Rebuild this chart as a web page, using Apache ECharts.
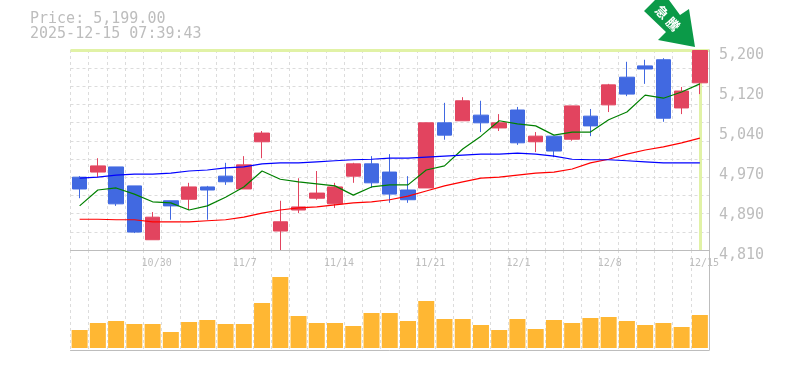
<!DOCTYPE html>
<html>
<head>
<meta charset="utf-8">
<style>html,body{margin:0;padding:0;background:#fff}#c{width:785px;height:370px}</style>
<script src="https://cdn.jsdelivr.net/npm/echarts@6/dist/echarts.min.js"></script>
</head>
<body>
<div id="c"></div>
<script>
const titleLines = ['Price: 5,199.00', '2025-12-15 07:39:43'];
const badgeText = ['急', '騰'];
const categories = ['10/24','10/27','10/28','10/29','10/30','10/31','11/4','11/5','11/6','11/7','11/10','11/11','11/12','11/13','11/14','11/17','11/18','11/19','11/20','11/21','11/25','11/26','11/27','11/28','12/1','12/2','12/3','12/4','12/5','12/8','12/9','12/10','12/11','12/12','12/15'];
const shownDates = ['10/30','11/7','11/14','11/21','12/1','12/8','12/15'];
const priceTicks = ['4,810','4,890','4,970','5,040','5,120','5,200'];
const lastPrice = 5199;
const lastDate = '12/15';
// open, close, low, high
const ohlc = [
[4952,4929,4911,4954],[4962,4974,4952,4989],[4972,4900,4896,4972],[4935,4845,4843,4935],[4830,4874,4830,4884],
[4906,4896,4869,4906],[4909,4933,4888,4941],[4933,4927,4869,4935],[4954,4943,4937,4980],[4929,4976,4929,4993],
[5021,5038,4989,5042],[4847,4865,4810,4906],[4888,4894,4882,4950],[4911,4921,4908,4964],[4900,4933,4892,4941],
[4954,4978,4941,4980],[4978,4941,4931,4993],[4962,4919,4902,4997],[4927,4908,4902,4954],[4931,5058,4931,5058],
[5058,5034,5025,5097],[5062,5101,5062,5108],[5073,5058,5040,5101],[5048,5058,5042,5075],[5083,5019,5015,5089],
[5021,5032,5001,5040],[5032,5003,4991,5032],[5026,5091,5023,5091],[5071,5052,5032,5085],[5093,5132,5079,5134],
[5147,5114,5110,5177],[5169,5163,5134,5181],[5181,5067,5060,5184],[5087,5120,5075,5128],[5136,5199,5114,5199]
];
const maShort = [4896,4927,4931,4919,4904,4902,4888,4896,4913,4933,4964,4948,4943,4939,4935,4917,4933,4937,4937,4966,4974,5007,5032,5062,5056,5052,5034,5040,5040,5064,5079,5112,5106,5118,5134];
const maMid = [4870,4870,4869,4869,4865,4865,4865,4867,4869,4874,4882,4888,4892,4894,4898,4902,4904,4908,4915,4925,4935,4943,4950,4952,4956,4960,4962,4968,4980,4987,4997,5005,5011,5019,5028];
const maLong = [4950,4952,4956,4958,4958,4960,4964,4966,4970,4972,4978,4980,4980,4982,4984,4986,4987,4989,4989,4991,4993,4995,4997,4997,4999,4997,4993,4987,4986,4986,4984,4982,4980,4980,4980];
const volume = [18,25,27,24,24,16,26,28,24,24,45,71,32,25,25,22,35,35,27,47,29,29,23,18,29,19,28,25,30,31,27,23,25,21,33];

const GREY = '#bdbdbd', GRID = '#dcdcdc', FONT = '"DejaVu Sans Mono", monospace';
const L = 70.5, W = 638.5;
const chart = echarts.init(document.getElementById('c'), null, {renderer: 'canvas'});
const vGrid = {show: true, interval: 0, lineStyle: {color: GRID, type: [3, 3], width: 1}};
const hiddenY = {axisLabel: {show: false}, axisLine: {show: false}, axisTick: {show: false}, splitLine: {show: false}};
chart.setOption({
  animation: false,
  backgroundColor: '#fff',
  title: {
    text: titleLines.join('\n'), left: 30, top: 12, padding: 0,
    textStyle: {color: GREY, fontFamily: FONT, fontSize: 15, fontWeight: 'normal', lineHeight: 15}
  },
  grid: [
    {left: L, width: W, top: 50, height: 200},
    {left: L, width: W, top: 250, height: 100},
    {left: L - 11, width: W, top: 50, height: 200},
    {left: L, width: W, top: 55, height: 200}
  ],
  xAxis: [
    {type: 'category', gridIndex: 0, data: categories, axisTick: {show: false}, axisLabel: {show: false},
     axisLine: {onZero: false, lineStyle: {color: GREY, width: 1}}, splitLine: vGrid},
    {type: 'category', gridIndex: 1, data: categories, axisTick: {show: false}, axisLabel: {show: false},
     axisLine: {onZero: false, lineStyle: {color: GREY, width: 1}}, splitLine: vGrid},
    {type: 'category', gridIndex: 2, data: categories, axisTick: {show: false}, axisLine: {show: false},
     splitLine: {show: false},
     axisLabel: {color: GREY, fontFamily: FONT, fontSize: 10, align: 'left', margin: 8,
       interval: (i, v) => shownDates.includes(v)}},
    {type: 'category', gridIndex: 3, data: categories, show: false}
  ],
  yAxis: [
    {type: 'value', gridIndex: 0, min: 4810, max: 5200, scale: true, ...hiddenY},
    {type: 'value', gridIndex: 0, min: 0, max: 5, interval: 1, position: 'right', ...hiddenY,
     axisLine: {show: true, lineStyle: {color: GREY, width: 1}}},
    {type: 'value', gridIndex: 0, min: 0, max: 11, interval: 1, ...hiddenY,
     splitLine: {show: true, lineStyle: {color: GRID, type: [3, 3], width: 1}}},
    {type: 'value', gridIndex: 1, min: -2, max: 98, position: 'right', ...hiddenY,
     axisLine: {show: true, lineStyle: {color: GREY, width: 1}}},
    {type: 'value', gridIndex: 2, show: false},
    {type: 'value', gridIndex: 3, min: 0, max: 5, interval: 1, position: 'right', ...hiddenY,
     axisLabel: {color: GREY, fontFamily: FONT, fontSize: 15, margin: 10, formatter: v => priceTicks[v]}}
  ],
  series: [
    {type: 'line', name: 'last', xAxisIndex: 0, yAxisIndex: 0, data: [], z: 1, silent: true,
     markLine: {symbol: 'none', silent: true, animation: false, label: {show: false}, z: 1,
       lineStyle: {color: '#e1f2a6', width: 3, type: 'solid'},
       data: [{yAxis: lastPrice}, {xAxis: lastDate}]}},
    {type: 'candlestick', name: 'price', xAxisIndex: 0, yAxisIndex: 0, data: ohlc, barWidth: 15, z: 2,
     itemStyle: {color: '#e2445f', color0: '#4169e1', borderColor: '#e2445f', borderColor0: '#4169e1', borderWidth: 1}},
    {type: 'line', name: 'short', xAxisIndex: 0, yAxisIndex: 0, data: maShort, showSymbol: false, z: 3, lineStyle: {color: '#008000', width: 1.2}},
    {type: 'line', name: 'mid', xAxisIndex: 0, yAxisIndex: 0, data: maMid, showSymbol: false, z: 3, lineStyle: {color: '#ff0000', width: 1.2}},
    {type: 'line', name: 'long', xAxisIndex: 0, yAxisIndex: 0, data: maLong, showSymbol: false, z: 3, lineStyle: {color: '#0000ff', width: 1.2}},
    {type: 'bar', name: 'volume', xAxisIndex: 1, yAxisIndex: 3, data: volume, barWidth: 16, z: 2, itemStyle: {color: '#ffb733'}}
  ],
  graphic: [
    {type: 'polygon', z: 100, shape: {points: [[644,11],[655,0],[669,0],[680,15],[689,9],[695,47],[658,40],[666,32]]}, style: {fill: '#0b9a48'}},
    {type: 'text', z: 101, x: 662, y: 12, rotation: -Math.PI / 4, style: {text: badgeText[0], fill: '#fff', font: 'bold 13px "Noto Sans CJK JP"', align: 'center', verticalAlign: 'middle'}},
    {type: 'text', z: 101, x: 673, y: 24, rotation: -Math.PI / 4, style: {text: badgeText[1], fill: '#fff', font: 'bold 13px "Noto Sans CJK JP"', align: 'center', verticalAlign: 'middle'}}
  ]
});
</script>
</body>
</html>
